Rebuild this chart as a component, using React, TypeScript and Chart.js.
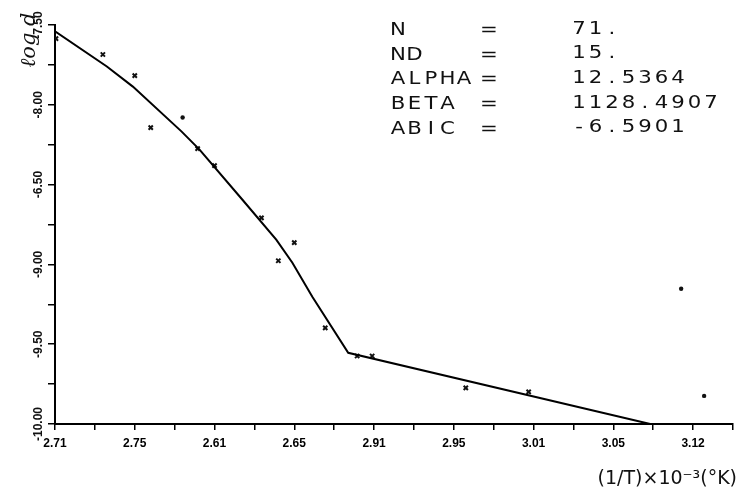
import { useEffect, useRef } from 'react';
import { Chart, registerables } from 'chart.js';

Chart.register(...registerables);

// x axis: 1/T (x10^-3), minor tick every 0.025, labels on every other tick
const X_MIN = 2.71;
const X_STEP = 0.025;
const X_TICK_COUNT = 18;
const xTickLabels = ['2.71', '2.75', '2.61', '2.65', '2.91', '2.95', '3.01', '3.05', '3.12'];

// y axis: log d
const Y_MIN = -10.0;
const Y_MAX = -7.5;
const Y_STEP = 0.25;
const yTickValues = [-10.0, -9.5, -9.0, -8.5, -8.0, -7.5];
const yTickLabels = ['-10.00', '-9.50', '-9.00', '-6.50', '-8.00', '-7.50'];

// fitted curve
const fitX = [2.71, 2.7425, 2.7588, 2.7894, 2.8006, 2.8275, 2.8488, 2.8588, 2.8713, 2.8938, 3.0831];
const fitY = [-7.54, -7.76, -7.886, -8.168, -8.281, -8.595, -8.846, -8.99, -9.203, -9.554, -10.0];

// observed points (x marks)
const obsX = [2.7106, 2.74, 2.76, 2.77, 2.7994, 2.81, 2.8394, 2.85, 2.86, 2.8794, 2.8994, 2.9088, 2.9675, 3.0069];
const obsY = [-7.585, -7.685, -7.817, -8.143, -8.275, -8.381, -8.708, -8.977, -8.864, -9.398, -9.574, -9.574, -9.774, -9.799];

// isolated dots
const dotX = [2.79, 3.1025, 3.1169];
const dotY = [-8.08, -9.153, -9.824];

// statistics block
const statNames = ['N', 'ND', 'ALPHA', 'BETA', 'ABIC'];
const statValues = ['71.', '15.', '12.5364', '1128.4907', '-6.5901'];

const yTitle = 'ℓog d';
const xTitle = '(1/T)×10⁻³(°K)';

const textPlugin = {
  id: 'textPlugin',
  afterDraw(chart: any) {
    const ctx = chart.ctx;
    const yScale = chart.scales.y;
    ctx.save();
    ctx.fillStyle = '#111';
    // y tick labels, rotated
    ctx.font = 'bold 12px "Liberation Sans"';
    ctx.textAlign = 'center';
    ctx.textBaseline = 'middle';
    yTickValues.forEach((v, i) => {
      const py = yScale.getPixelForValue(v);
      ctx.save();
      ctx.translate(39, py);
      ctx.rotate(-Math.PI / 2);
      ctx.fillText(yTickLabels[i], 0, 0);
      ctx.restore();
    });
    // y title
    ctx.save();
    ctx.translate(30, 40);
    ctx.rotate(-Math.PI / 2);
    ctx.font = 'italic 21px "DejaVu Serif"';
    ctx.fillText(yTitle, 0, 0);
    ctx.restore();
    // x title
    ctx.font = '19px "DejaVu Sans"';
    ctx.textAlign = 'right';
    ctx.textBaseline = 'alphabetic';
    ctx.fillText(xTitle, 737, 484);
    // statistics
    ctx.font = '17px "DejaVu Sans"';
    ctx.textAlign = 'center';
    const pitch = 16.5;
    const drawChar = (c: string, x: number, y: number) => {
      ctx.save();
      ctx.translate(x, y);
      ctx.scale(1.25, 1);
      ctx.fillText(c, 0, 0);
      ctx.restore();
    };
    statNames.forEach((name, r) => {
      const base = 35 + r * 24.7;
      for (let i = 0; i < name.length; i++) {
        drawChar(name[i], 398 + i * pitch, base);
      }
      drawChar('=', 489, base);
      const val = statValues[r];
      for (let i = 0; i < val.length; i++) {
        drawChar(val[i], 579 + i * pitch, base - 1.5);
      }
    });
    ctx.restore();
  },
};

export default function App() {
  const ref = useRef<HTMLCanvasElement>(null);
  useEffect(() => {
    if (!ref.current) return;
    const xTickVals = Array.from({ length: X_TICK_COUNT }, (_, i) => X_MIN + i * X_STEP);
    const yTickVals: number[] = [];
    for (let v = Y_MIN; v <= Y_MAX + 1e-9; v += Y_STEP) yTickVals.push(v);
    const chart = new Chart(ref.current, {
      type: 'scatter',
      data: {
        datasets: [
          {
            data: fitX.map((x, i) => ({ x, y: fitY[i] })),
            showLine: true,
            borderColor: '#000',
            borderWidth: 2,
            pointRadius: 0,
            tension: 0,
          },
          {
            data: obsX.map((x, i) => ({ x, y: obsY[i] })),
            showLine: false,
            pointStyle: 'crossRot',
            pointRadius: 3,
            borderWidth: 2,
            borderColor: '#111',
          },
          {
            data: dotX.map((x, i) => ({ x, y: dotY[i] })),
            showLine: false,
            pointStyle: 'circle',
            pointRadius: 2.2,
            borderWidth: 0,
            backgroundColor: '#111',
          },
        ],
      },
      options: {
        animation: false,
        responsive: false,
        devicePixelRatio: 1,
        layout: { padding: { top: 25, right: 4, left: 0, bottom: 0 } },
        plugins: { legend: { display: false }, tooltip: { enabled: false }, title: { display: false } },
        scales: {
          x: {
            type: 'linear',
            min: X_MIN,
            max: X_MIN + (X_TICK_COUNT - 1) * X_STEP,
            afterBuildTicks: (s: any) => {
              s.ticks = xTickVals.map((v) => ({ value: v }));
            },
            afterFit: (s: any) => {
              s.height = 68;
            },
            ticks: {
              autoSkip: false,
              maxRotation: 0,
              minRotation: 0,
              padding: 6,
              color: '#000',
              font: { family: '"Liberation Sans"', weight: 'bold', size: 12 },
              callback: (_v: any, i: number) => (i % 2 === 0 ? xTickLabels[i / 2] : ''),
            },
            grid: { drawOnChartArea: false, drawTicks: true, tickLength: 6, color: '#000', lineWidth: 1.5 },
            border: { display: true, color: '#000', width: 2 },
          },
          y: {
            type: 'linear',
            min: Y_MIN,
            max: Y_MAX,
            afterBuildTicks: (s: any) => {
              s.ticks = yTickVals.map((v) => ({ value: v }));
            },
            afterFit: (s: any) => {
              s.width = 55;
            },
            ticks: { display: false },
            grid: { drawOnChartArea: false, drawTicks: true, tickLength: 7, color: '#000', lineWidth: 1.5 },
            border: { display: true, color: '#000', width: 2 },
          },
        },
      },
      plugins: [textPlugin],
    } as any);
    return () => chart.destroy();
  }, []);
  return (
    <div style={{ position: 'absolute', left: 0, top: 0, width: 739, height: 492, background: '#fff' }}>
      <canvas ref={ref} width={739} height={492} />
    </div>
  );
}
